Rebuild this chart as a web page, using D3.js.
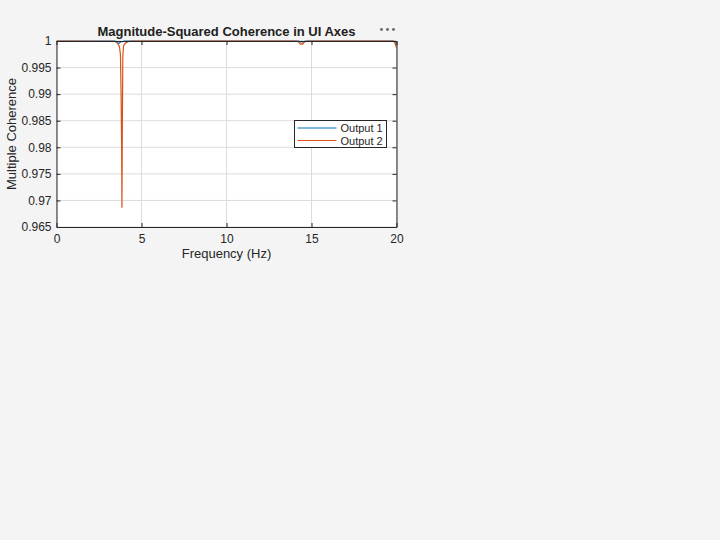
<!DOCTYPE html>
<html>
<head>
<meta charset="utf-8">
<script src="https://cdn.jsdelivr.net/npm/d3@7"></script>
<style>
	body { margin: 0; background: #f4f4f4; }
	svg { display: block; font-family: Arial, "Liberation Sans", sans-serif; }
</style>
</head>
<body>
<div id="chart"></div>
<script>
// Frequency points (Hz) and coherence values
const frequency = [0, 3.4, 3.5, 3.58, 3.64, 3.7, 3.76, 3.8, 3.83, 3.85, 3.87, 3.9, 3.94, 4.0, 4.1, 4.25, 4.4,
	14.1, 14.25, 14.32, 14.38, 14.43, 14.48, 14.55, 14.65, 14.8, 19.8, 19.9, 19.95, 20];
const output1 = [1, 1, 0.99995, 0.9997, 0.9995, 0.9996, 0.9998, 0.99985, 0.9999, 0.9999, 0.9999, 0.9999, 0.99993, 0.99996, 0.99998, 1, 1,
	1, 0.99996, 0.9999, 0.9998, 0.9999, 0.9998, 0.9999, 0.99996, 1, 1, 0.99995, 0.9997, 0.9993];
const output2 = [1, 0.99995, 0.9998, 0.9996, 0.9993, 0.9990, 0.9975, 0.9900, 0.980, 0.9686, 0.982, 0.9970, 0.9990, 0.9994, 0.9997, 0.9999, 1,
	1, 0.9998, 0.9995, 0.9994, 0.9995, 0.9994, 0.9997, 0.9999, 1, 1, 0.9997, 0.9992, 0.9987];
const xTicks = [0, 5, 10, 15, 20];
const yTicks = [0.965, 0.97, 0.975, 0.98, 0.985, 0.99, 0.995, 1];
const seriesNames = ['Output 1', 'Output 2'];
const seriesColours = ['#0072BD', '#D95319'];

const width = 720;
const height = 540;
const plotLeft = 56.5, plotRight = 396.5, plotTop = 41, plotBottom = 227;

const svg = d3.select('#chart')
	.append('svg')
	.attr('width', width)
	.attr('height', height);

const xScale = d3.scaleLinear().domain([0, 20]).range([plotLeft, plotRight]);
const yScale = d3.scaleLinear().domain([0.965, 1]).range([plotBottom, plotTop]);

// axes background
svg.append('rect')
	.attr('x', plotLeft).attr('y', plotTop)
	.attr('width', plotRight - plotLeft).attr('height', plotBottom - plotTop)
	.attr('fill', '#ffffff');

// grid lines
svg.append('g')
	.selectAll('line')
	.data(xTicks)
	.enter().append('line')
		.attr('x1', (d) => xScale(d)).attr('x2', (d) => xScale(d))
		.attr('y1', plotTop).attr('y2', plotBottom)
		.attr('stroke', '#dcdcdc').attr('stroke-width', 1);

svg.append('g')
	.selectAll('line')
	.data(yTicks)
	.enter().append('line')
		.attr('x1', plotLeft).attr('x2', plotRight)
		.attr('y1', (d) => yScale(d)).attr('y2', (d) => yScale(d))
		.attr('stroke', '#dcdcdc').attr('stroke-width', 1);

// series lines
const rows = frequency.map((f, i) => ({f: f, v: [output1[i], output2[i]]}));
svg.append('clipPath').attr('id', 'clip')
	.append('rect').attr('x', plotLeft).attr('y', plotTop - 2)
	.attr('width', plotRight - plotLeft).attr('height', plotBottom - plotTop + 2);

[0, 1].forEach((k) => {
	const line = d3.line()
		.x((d) => xScale(d.f))
		.y((d) => yScale(d.v[k]));
	svg.append('path')
		.datum(rows)
		.attr('d', line)
		.attr('fill', 'none')
		.attr('stroke', seriesColours[k])
		.attr('stroke-width', 1.2)
		.attr('clip-path', 'url(#clip)');
});

// axes with inward ticks
const axisColour = '#262626';
const xAxis = svg.append('g')
	.attr('transform', `translate(0, ${plotBottom})`)
	.call(d3.axisBottom(xScale).tickValues(xTicks).tickSizeInner(-4).tickSizeOuter(0).tickPadding(7).tickFormat(d3.format('d')));
const xAxisTop = svg.append('g')
	.attr('transform', `translate(0, ${plotTop})`)
	.call(d3.axisTop(xScale).tickValues(xTicks).tickSizeInner(-4).tickSizeOuter(0).tickFormat(''));
const yAxis = svg.append('g')
	.attr('transform', `translate(${plotLeft}, 0)`)
	.call(d3.axisLeft(yScale).tickValues(yTicks).tickSizeInner(-4).tickSizeOuter(0).tickPadding(5).tickFormat((d) => String(+d.toFixed(3))));
const yAxisRight = svg.append('g')
	.attr('transform', `translate(${plotRight}, 0)`)
	.call(d3.axisRight(yScale).tickValues(yTicks).tickSizeInner(-4).tickSizeOuter(0).tickFormat(''));

[xAxis, xAxisTop, yAxis, yAxisRight].forEach((a) => {
	a.select('.domain').attr('stroke', axisColour);
	a.selectAll('.tick line').attr('stroke', axisColour);
	a.selectAll('.tick text')
		.attr('fill', axisColour)
		.style('font-size', '12px')
		.style('font-family', 'Arial, "Liberation Sans", sans-serif');
});

// axis labels
svg.append('text')
	.attr('x', (plotLeft + plotRight) / 2)
	.attr('y', 258)
	.attr('text-anchor', 'middle')
	.attr('fill', axisColour)
	.style('font-size', '13px')
	.text('Frequency (Hz)');

svg.append('text')
	.attr('transform', `translate(16, ${(plotTop + plotBottom) / 2}) rotate(-90)`)
	.attr('text-anchor', 'middle')
	.attr('fill', axisColour)
	.style('font-size', '13px')
	.text('Multiple Coherence');

// title
svg.append('text')
	.attr('x', (plotLeft + plotRight) / 2)
	.attr('y', 36)
	.attr('text-anchor', 'middle')
	.attr('fill', '#212121')
	.style('font-size', '13px')
	.style('font-weight', 'bold')
	.text('Magnitude-Squared Coherence in UI Axes');

// toolbar dots
svg.append('g')
	.selectAll('circle')
	.data([381.5, 387.5, 393.5])
	.enter().append('circle')
		.attr('cx', (d) => d).attr('cy', 29.5)
		.attr('r', 1.4)
		.attr('fill', '#666666');

// legend
const legend = svg.append('g').attr('transform', 'translate(294.5, 120.5)');
legend.append('rect')
	.attr('width', 92).attr('height', 27)
	.attr('fill', '#ffffff')
	.attr('stroke', axisColour)
	.attr('stroke-width', 1);
seriesNames.forEach((name, i) => {
	legend.append('line')
		.attr('x1', 3).attr('x2', 42)
		.attr('y1', 7.5 + i * 12.5).attr('y2', 7.5 + i * 12.5)
		.attr('stroke', seriesColours[i])
		.attr('stroke-width', 1.2);
	legend.append('text')
		.attr('x', 46)
		.attr('y', 11.5 + i * 12.5)
		.attr('fill', axisColour)
		.style('font-size', '11px')
		.text(name);
});
</script>
</body>
</html>
